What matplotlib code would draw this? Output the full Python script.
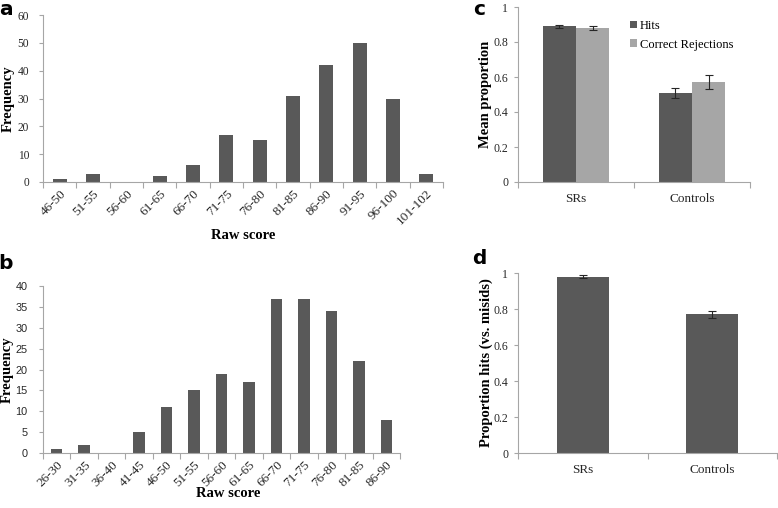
import matplotlib
matplotlib.use("Agg")
import matplotlib.pyplot as plt
import numpy as np

# panel a: frequency of raw scores
cats_a = ["46-50", "51-55", "56-60", "61-65", "66-70", "71-75", "76-80",
          "81-85", "86-90", "91-95", "96-100", "101-102"]
freq_a = [1, 3, 0, 2, 6, 17, 15, 31, 42, 50, 30, 3]

# panel b
cats_b = ["26-30", "31-35", "36-40", "41-45", "46-50", "51-55", "56-60",
          "61-65", "66-70", "71-75", "76-80", "81-85", "86-90"]
freq_b = [1, 2, 0, 5, 11, 15, 19, 17, 37, 37, 34, 22, 8]

# panel c
groups = ["SRs", "Controls"]
hits_c = [0.89, 0.51]
hits_c_err = [0.01, 0.03]
cr_c = [0.88, 0.57]
cr_c_err = [0.01, 0.04]

# panel d
hits_d = [0.98, 0.77]
hits_d_err = [0.01, 0.02]

W, H = 778, 508
DARK = "#595959"
LIGHT = "#a6a6a6"
SPINE = "#a6a6a6"
TXT = "#262626"
SERIF = "Liberation Serif"
ERR = dict(ecolor=TXT, elinewidth=0.8, capsize=3, capthick=0.8)

fig = plt.figure(figsize=(W / 100, H / 100), dpi=100)


def px_axes(left, top, right, bottom):
    return fig.add_axes([left / W, 1 - bottom / H, (right - left) / W, (bottom - top) / H])


def style(ax, n, ymax, ystep, yfont=SERIF, ysize=8, ypad=3):
    for s in ["top", "right"]:
        ax.spines[s].set_visible(False)
    for s in ["left", "bottom"]:
        ax.spines[s].set_color(SPINE)
        ax.spines[s].set_linewidth(0.8)
    ax.set_xlim(-0.5, n - 0.5)
    ax.set_ylim(0, ymax)
    ax.set_yticks(np.arange(0, ymax + ystep / 2, ystep))
    ax.set_xticks(np.arange(n))
    ax.set_xticks(np.arange(-0.5, n), minor=True)
    ax.tick_params(axis="x", which="major", length=0, pad=4)
    ax.tick_params(axis="x", which="minor", length=4, color=SPINE, width=0.8)
    ax.tick_params(axis="y", length=3, color=SPINE, width=0.8, pad=ypad)
    for lab in ax.get_yticklabels():
        lab.set_fontfamily(yfont)
        lab.set_fontsize(ysize)
        lab.set_color(TXT)


def ylab(ax, text, xcoord):
    ax.set_ylabel(text, fontfamily=SERIF, fontweight="bold", fontsize=10.5)
    ax.yaxis.set_label_coords(xcoord, 0.5)


def xlab(ax, text, ycoord, xcoord=0.5):
    ax.set_xlabel(text, fontfamily=SERIF, fontweight="bold", fontsize=10.5)
    ax.xaxis.set_label_coords(xcoord, ycoord)


def letter(xp, yp, s):
    fig.text(xp / W, 1 - yp / H, s, fontsize=14.5, fontweight="bold",
             va="top", ha="center")


# ---- a ----
ax = px_axes(43, 15, 443, 182)
x = np.arange(len(cats_a))
ax.bar(x, freq_a, width=0.42, color=DARK)
style(ax, len(cats_a), 60, 10, ysize=8.3, ypad=7)
ax.set_xticklabels(cats_a, rotation=45, ha="right", rotation_mode="anchor",
                   fontfamily=SERIF, fontsize=9.5, color=TXT)
ylab(ax, "Frequency", -0.07)
xlab(ax, "Raw score", -0.28)
letter(6, 0, "a")

# ---- b ----
ax = px_axes(43, 286, 400, 453)
x = np.arange(len(cats_b))
ax.bar(x, freq_b, width=0.42, color=DARK)
style(ax, len(cats_b), 40, 5, yfont="Liberation Sans", ysize=7.8, ypad=8)
ax.set_xticklabels(cats_b, rotation=45, ha="right", rotation_mode="anchor",
                   fontfamily=SERIF, fontsize=9.5, color=TXT)
ylab(ax, "Frequency", -0.083)
xlab(ax, "Raw score", -0.205, 0.52)
letter(6, 254, "b")

# ---- c ----
ax = px_axes(518, 7, 750, 182)
x = np.arange(len(groups))
bw = 0.285
ax.bar(x - bw / 2, hits_c, width=bw, color=DARK, label="Hits",
       yerr=hits_c_err, error_kw=ERR)
ax.bar(x + bw / 2, cr_c, width=bw, color=LIGHT, label="Correct Rejections",
       yerr=cr_c_err, error_kw=ERR)
style(ax, len(groups), 1, 0.2, ysize=8.5, ypad=4)
ax.set_yticklabels(["0", "0.2", "0.4", "0.6", "0.8", "1"])
ax.set_xticklabels(groups, fontfamily=SERIF, fontsize=9.5, color=TXT)
ax.tick_params(axis="x", which="major", pad=8)
ylab(ax, "Mean proportion", -0.112)
ax.legend(loc="upper left", bbox_to_anchor=(0.46, 0.955), frameon=False,
          prop=dict(family=SERIF, size=9), handlelength=0.6, handleheight=0.6,
          handletextpad=0.2, labelspacing=0.55, borderaxespad=0.0)
letter(479, 0, "c")

# ---- d ----
ax = px_axes(518, 273, 777, 453)
ax.bar(x, hits_d, width=0.4, color=DARK, yerr=hits_d_err, error_kw=ERR)
style(ax, len(groups), 1, 0.2, ysize=8.5, ypad=4)
ax.set_yticklabels(["0", "0.2", "0.4", "0.6", "0.8", "1"])
ax.set_xticklabels(groups, fontfamily=SERIF, fontsize=9.5, color=TXT)
ax.tick_params(axis="x", which="major", pad=8)
ylab(ax, "Proportion hits (vs. misids)", -0.097)
letter(479, 249, "d")

fig.savefig("out.png", dpi=100)
